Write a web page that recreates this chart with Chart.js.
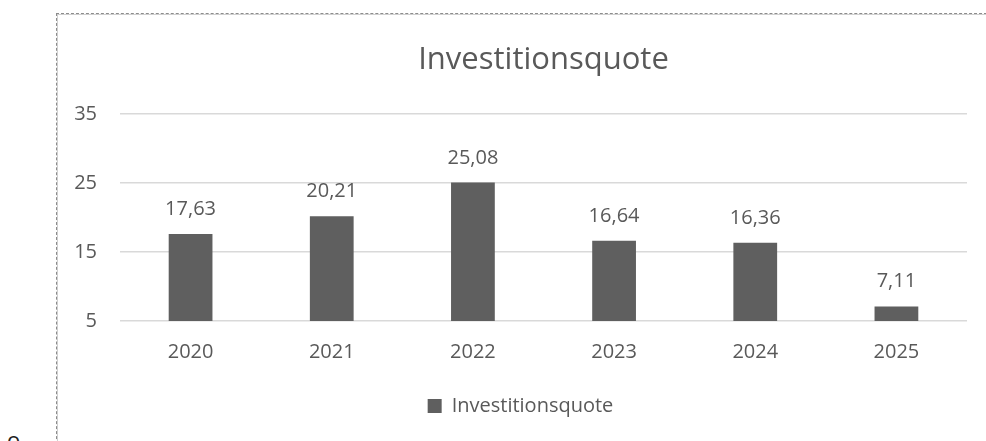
<!DOCTYPE html>
<html>
<head>
<meta charset="utf-8">
<script src="https://cdn.jsdelivr.net/npm/chart.js@4"></script>
<style>
  html, body { margin: 0; padding: 0; background: #fff; }
  body { width: 986px; height: 441px; position: relative; overflow: hidden; }
  #frame {
    position: absolute; left: 56px; top: 13px; width: 940px; height: 440px;
    border-left: 1px dashed #8c8c8c; border-top: 1px dashed #8c8c8c;
    box-shadow: inset 1px 1px 0 #d0d0d0;
  }
  #chartBox { position: absolute; left: 57px; top: 14px; width: 929px; height: 427px; }
  #mark {
    position: absolute; left: 7px; top: 424px;
    font-family: "Open Sans", sans-serif; font-size: 22px; color: #222;
  }
</style>
</head>
<body>
<div id="frame"></div>
<div id="chartBox"><canvas id="chart"></canvas></div>
<div id="mark">o</div>
<script>
// Investitionsquote – Werte aus der Vorlage
const jahre = ['2020', '2021', '2022', '2023', '2024', '2025'];
const quoten = [17.63, 20.21, 25.08, 16.64, 16.36, 7.11];
const yTicks = [5, 15, 25, 35];

const GRAU = '#595959';
const FONT = '"Open Sans", sans-serif';

// Werte über die Balken schreiben (deutsches Komma)
const wertLabels = {
  id: 'wertLabels',
  afterDatasetsDraw(chart) {
    const ctx = chart.ctx;
    const meta = chart.getDatasetMeta(0);
    ctx.save();
    ctx.font = '20px ' + FONT;
    ctx.fillStyle = GRAU;
    ctx.textAlign = 'center';
    ctx.textBaseline = 'alphabetic';
    meta.data.forEach((bar, i) => {
      const txt = quoten[i].toFixed(2).replace('.', ',');
      ctx.fillText(txt, bar.x, bar.y - 19);
    });
    ctx.restore();
  }
};

const ctx = document.getElementById('chart').getContext('2d');
new Chart(ctx, {
  type: 'bar',
  data: {
    labels: jahre,
    datasets: [{
      label: 'Investitionsquote',
      data: quoten,
      backgroundColor: '#5f5f5f',
      barPercentage: 0.31,
      categoryPercentage: 1
    }]
  },
  options: {
    responsive: true,
    maintainAspectRatio: false,
    animation: false,
    layout: { padding: { left: 17, right: 19, top: 18, bottom: 15 } },
    plugins: {
      title: {
        display: true,
        fullSize: false,
        text: 'Investitionsquote',
        color: GRAU,
        font: { family: FONT, size: 31, weight: 'normal' },
        padding: { top: 10, bottom: 35 }
      },
      legend: {
        position: 'bottom',
        labels: {
          color: GRAU,
          font: { family: FONT, size: 20 },
          boxWidth: 14,
          boxHeight: 14,
          padding: 21
        }
      },
      tooltip: { enabled: false }
    },
    scales: {
      x: {
        grid: { display: false },
        border: { display: false },
        ticks: { color: GRAU, font: { family: FONT, size: 20 }, padding: 11 }
      },
      y: {
        min: 5,
        max: 35,
        afterBuildTicks: (axis) => { axis.ticks = yTicks.map(v => ({ value: v })); },
        afterFit: (axis) => { axis.width = 46; },
        grid: { color: '#d9d9d9', lineWidth: 1.5, drawTicks: false },
        border: { display: false },
        ticks: { color: GRAU, font: { family: FONT, size: 20 }, padding: 23 }
      }
    }
  },
  plugins: [wertLabels]
});
</script>
</body>
</html>
